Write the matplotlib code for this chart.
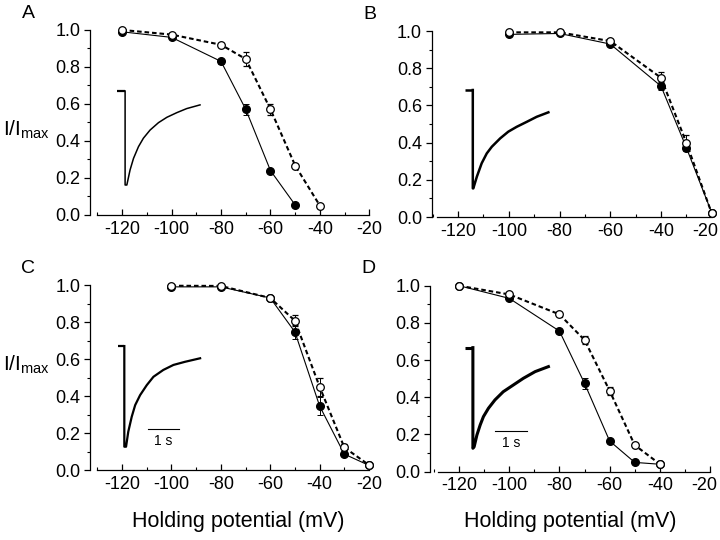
import numpy as np
import matplotlib.pyplot as plt
import matplotlib.transforms as mtransforms
from matplotlib.ticker import MultipleLocator, FormatStrFormatter

plt.rcParams['font.family'] = ['Liberation Sans', 'DejaVu Sans']
plt.rcParams['mathtext.fontset'] = 'custom'
plt.rcParams['mathtext.rm'] = 'Liberation Sans'
plt.rcParams['axes.unicode_minus'] = False

# steady-state inactivation, open = dashed, filled = solid
a_volt = [-120, -100, -80, -70, -60, -50, -40]
a_open = [1.0, 0.975, 0.92, 0.843, 0.571, 0.267, 0.05]
a_open_err = [0.0, 0.01, 0.01, 0.04, 0.03, 0.01, 0.01]
a_fill_volt = [-120, -100, -80, -70, -60, -50]
a_fill = [0.99, 0.96, 0.83, 0.571, 0.24, 0.054]
a_fill_err = [0.0, 0.01, 0.015, 0.03, 0.01, 0.005]

b_volt = [-100, -80, -60, -40, -30, -20]
b_open = [0.993, 0.993, 0.946, 0.749, 0.399, 0.02]
b_open_err = [0.01, 0.01, 0.01, 0.03, 0.04, 0.01]
b_fill = [0.982, 0.987, 0.93, 0.704, 0.373, 0.023]
b_fill_err = [0.01, 0.01, 0.01, 0.02, 0.02, 0.01]

c_volt = [-100, -80, -60, -50, -40, -30, -20]
c_open = [0.996, 0.995, 0.93, 0.807, 0.45, 0.122, 0.027]
c_open_err = [0.01, 0.005, 0.01, 0.03, 0.05, 0.02, 0.01]
c_fill = [0.99, 0.99, 0.93, 0.746, 0.346, 0.086, 0.025]
c_fill_err = [0.01, 0.005, 0.01, 0.04, 0.05, 0.01, 0.01]

d_volt = [-120, -100, -80, -70, -60, -50, -40]
d_open = [1.0, 0.953, 0.846, 0.708, 0.435, 0.143, 0.041]
d_open_err = [0.0, 0.01, 0.01, 0.02, 0.02, 0.01, 0.01]
d_fill = [1.0, 0.932, 0.756, 0.475, 0.165, 0.05, 0.04]
d_fill_err = [0.0, 0.01, 0.01, 0.03, 0.01, 0.01, 0.01]

# example current traces (in axis units)
a_trace_x = [-121.9, -118.8, -118.8, -118.1, -116.8, -115.4, -113.4, -111.4, -108.7,
             -105.3, -101.9, -97.9, -93.9, -88.5]
a_trace_y = [0.67, 0.67, 0.162, 0.162, 0.243, 0.306, 0.369, 0.415, 0.459,
             0.499, 0.528, 0.553, 0.575, 0.595]
b_trace_x = [-117.2, -114.2, -114.2, -114.0, -112.6, -110.7, -108.7, -106.7, -103.4,
             -100.2, -96.9, -92.9, -89.0, -84.4]
b_trace_y = [0.683, 0.683, 0.154, 0.154, 0.217, 0.289, 0.342, 0.378, 0.423,
             0.459, 0.485, 0.512, 0.539, 0.563]
c_trace_x = [-121.5, -119.1, -119.1, -118.4, -117.5, -116.1, -114.7, -112.7, -110.0,
             -107.3, -103.3, -99.2, -94.5, -88.4]
c_trace_y = [0.67, 0.67, 0.126, 0.126, 0.207, 0.288, 0.351, 0.405, 0.459,
             0.504, 0.541, 0.568, 0.585, 0.604]
d_trace_x = [-117.6, -114.5, -114.5, -114.0, -112.9, -111.6, -110.3, -108.3, -105.7,
             -102.4, -98.4, -94.4, -89.7, -84.4]
d_trace_y = [0.667, 0.667, 0.126, 0.134, 0.197, 0.251, 0.296, 0.341, 0.386,
             0.430, 0.466, 0.502, 0.538, 0.565]

c_bar_x = [-109.6, -96.8]
c_bar_y = 0.222
d_bar_x = [-105.5, -92.9]
d_bar_y = 0.220

fig = plt.figure(figsize=(7.2, 5.4), dpi=100)

panels = [
    ('A', [0.125, 0.6019, 0.388, 0.3426], -133, -130, a_fill_volt, a_fill, a_fill_err,
     a_volt, a_open, a_open_err, a_trace_x, a_trace_y, 1.1, None, None),
    ('B', [0.5996, 0.5981, 0.3889, 0.3444], -130.4, -128.5, b_volt, b_fill, b_fill_err,
     b_volt, b_open, b_open_err, b_trace_x, b_trace_y, 1.8, None, None),
    ('C', [0.125, 0.1296, 0.3875, 0.3426], -133, -130, c_volt, c_fill, c_fill_err,
     c_volt, c_open, c_open_err, c_trace_x, c_trace_y, 1.6, c_bar_x, c_bar_y),
    ('D', [0.5972, 0.1265, 0.3889, 0.3444], -131.6, -128.5, d_volt, d_fill, d_fill_err,
     d_volt, d_open, d_open_err, d_trace_x, d_trace_y, 2.2, d_bar_x, d_bar_y),
]

for (letter, pos, x0, spine0, fx, fy, fe, ox, oy, oe, tx, ty, tlw, barx, bary) in panels:
    ax = fig.add_axes(pos)
    ax.set_xlim(x0, -20)
    ax.set_ylim(0, 1.0)
    for s in ['top', 'right']:
        ax.spines[s].set_visible(False)
    ax.spines['bottom'].set_bounds(spine0, -20)
    ax.spines['left'].set_bounds(0, 1.0)
    ax.spines['left'].set_linewidth(0.9)
    ax.spines['bottom'].set_linewidth(0.9)

    ax.xaxis.set_minor_locator(MultipleLocator(10))
    ax.yaxis.set_major_locator(MultipleLocator(0.2))
    ax.yaxis.set_minor_locator(MultipleLocator(0.1))
    ax.yaxis.set_major_formatter(FormatStrFormatter('%.1f'))
    ax.set_xticks([-120, -100, -80, -60, -40, -20])
    ax.tick_params(axis='x', which='major', direction='in', length=4, width=0.9,
                   labelsize=13, pad=4)
    ax.tick_params(axis='x', which='minor', direction='in', length=2.5, width=0.8)
    ax.tick_params(axis='y', which='major', direction='out', length=4, width=0.9,
                   labelsize=13, pad=3)
    ax.tick_params(axis='y', which='minor', direction='out', length=2, width=0.8)

    # right-hand panels: keep the last "-20" inside the figure
    if pos[0] > 0.5:
        last = ax.get_xticklabels()[-1]
        last.set_transform(last.get_transform() +
                           mtransforms.ScaledTranslation(-6 / 100, 0, fig.dpi_scale_trans))

    # inset trace
    ax.plot(tx[:2], ty[:2], color='k', lw=max(tlw, 1.6), solid_capstyle='butt', clip_on=False)
    ax.plot(tx[1:], ty[1:], color='k', lw=tlw, clip_on=False)
    if barx is not None:
        ax.plot(barx, [bary, bary], color='k', lw=0.8)
        ax.text(np.mean(barx), bary - 0.03, '1 s', ha='center', va='top', fontsize=10)

    ax.errorbar(fx, fy, yerr=fe, color='k', lw=0.8, marker='o', ms=5.5, mfc='k',
                mec='k', capsize=2.5, elinewidth=0.7, capthick=0.7, clip_on=False, zorder=3)
    ax.errorbar(ox, oy, yerr=oe, color='k', lw=1.5, ls=(0, (2.2, 1.4)), marker='o', ms=5.5,
                mfc='white', mec='k', mew=0.9, capsize=2.5, elinewidth=0.7, capthick=0.7,
                clip_on=False, zorder=4)

    fig.text(pos[0] - 0.086, pos[1] + pos[3] + 0.031, letter, fontsize=14,
             ha='center', va='center')

fig.text(0.004, 1 - 130 / 540, r'I/I$_{\mathrm{max}}$', fontsize=15, va='center', ha='left')
fig.text(0.004, 1 - 365 / 540, r'I/I$_{\mathrm{max}}$', fontsize=15, va='center', ha='left')
fig.text(238 / 720, 1 - 521 / 540, 'Holding potential (mV)', fontsize=15.5, ha='center', va='center')
fig.text(570 / 720, 1 - 521 / 540, 'Holding potential (mV)', fontsize=15.5, ha='center', va='center')

fig.savefig('out.png', dpi=100)
